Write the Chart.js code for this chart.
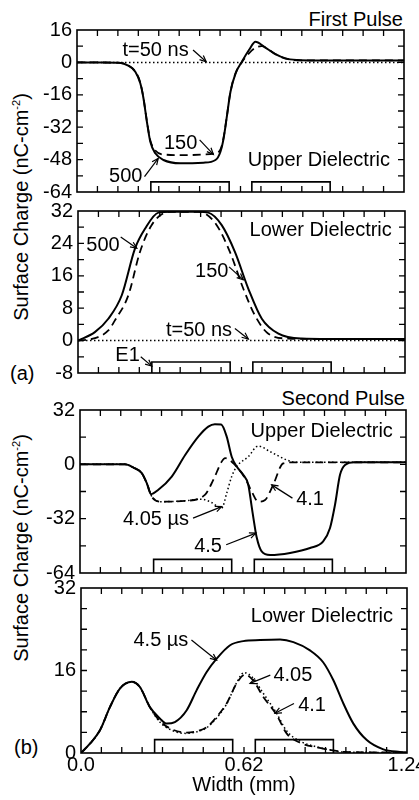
<!DOCTYPE html>
<html><head><meta charset="utf-8">
<script src="https://cdn.jsdelivr.net/npm/chart.js@4"></script>
<style>
html,body{margin:0;padding:0;background:#fff;width:419px;height:800px;overflow:hidden;font-family:"Liberation Sans",Arial,sans-serif;color:#000}
.panel{position:absolute;left:0;width:419px}
.lbl{position:absolute;font-size:20px;line-height:22px;white-space:nowrap}
.ytitle{position:absolute;font-size:20px;line-height:22px;white-space:nowrap;transform:translate(-50%,-50%) rotate(-90deg)}
.ytitle sup{font-size:11px;vertical-align:0;position:relative;top:-8px}
</style></head><body>
<div class="lbl" style="right:16px;top:8px">First Pulse</div>
<div class="lbl" style="right:14px;top:387px">Second Pulse</div>
<div class="lbl" style="left:10px;top:362px">(a)</div>
<div class="lbl" style="left:14px;top:736px">(b)</div>
<div class="ytitle" style="left:22px;top:207px">Surface Charge (nC-cm<sup>-2</sup>)</div>
<div class="ytitle" style="left:22px;top:548px">Surface Charge (nC-cm<sup>-2</sup>)</div>
<div class="panel" id="w1" style="top:15px;height:192px"><canvas id="c1"></canvas></div>
<div class="panel" id="w2" style="top:196px;height:192px"><canvas id="c2"></canvas></div>
<div class="panel" id="w3" style="top:395px;height:193px"><canvas id="c3"></canvas></div>
<div class="panel" id="w4" style="top:573px;height:227px"><canvas id="c4"></canvas></div>
<script>
// ---------- data ----------
// Panel (a) upper dielectric, first pulse
const p1x500 = [0, 0.10, 0.16, 0.19, 0.221, 0.24, 0.252, 0.265, 0.278, 0.297, 0.328, 0.392, 0.48, 0.525, 0.544, 0.556, 0.569, 0.582, 0.601, 0.626, 0.652, 0.677, 0.709, 0.747, 0.791, 0.836, 0.9, 1.24];
const p1y500 = [0, 0, -0.2, -1.3, -4.6, -10.3, -17.7, -29.3, -39.2, -44.9, -48.2, -49.8, -49.5, -48.2, -44.1, -37.5, -26, -14.5, -5.5, 0.5, 6.1, 10.2, 7.8, 4.5, 2.0, 1.2, 1.0, 1.0];
const p1x150 = [0, 0.16, 0.19, 0.221, 0.24, 0.252, 0.265, 0.278, 0.297, 0.33, 0.40, 0.48, 0.52, 0.544, 0.556, 0.569, 0.582, 0.601, 0.626, 0.652, 0.68, 0.70, 0.73, 0.76, 0.80, 0.85, 1.24];
const p1y150 = [0, -0.2, -1.2, -4.5, -10, -17.5, -29, -38.5, -43.5, -45.5, -45.8, -45.5, -45, -43, -37, -26, -14.5, -5.5, 0.3, 4.5, 7.5, 8, 6, 3.5, 1.6, 1.0, 1.0];
const p1x50 = [0, 0.62, 1.24];
const p1y50 = [0, 0, 0];
// Panel (a) lower dielectric, first pulse
const p2x500 = [0, 0.064, 0.115, 0.166, 0.216, 0.254, 0.305, 0.355, 0.456, 0.494, 0.545, 0.595, 0.646, 0.697, 0.76, 0.848, 0.95, 1.24];
const p2y500 = [0, 2.1, 5.4, 11.2, 22.7, 27.6, 31.6, 31.8, 31.8, 31.6, 28.5, 21.9, 12.8, 5.4, 1.7, 0.5, 0.4, 0.4];
const p2x150 = [0, 0.064, 0.115, 0.14, 0.191, 0.235, 0.279, 0.33, 0.355, 0.456, 0.475, 0.526, 0.576, 0.627, 0.671, 0.722, 0.8, 0.9, 1.24];
const p2y150 = [0, 0.6, 2.5, 5.0, 11.2, 21.9, 28.5, 31.6, 31.8, 31.8, 31.6, 28.5, 21.9, 12.8, 6.2, 1.7, 0.5, 0.4, 0.4];
const p2x50 = [0, 0.62, 1.24];
const p2y50 = [0, 0, 0];
// Panel (b) upper dielectric, second pulse
const p3x45 = [0, 0.171, 0.203, 0.235, 0.254, 0.27, 0.298, 0.349, 0.40, 0.45, 0.488, 0.513, 0.537, 0.558, 0.577, 0.596, 0.621, 0.64, 0.653, 0.662, 0.672, 0.691, 0.723, 0.799, 0.875, 0.925, 0.951, 0.97, 0.989, 1.008, 1.045, 1.24];
const p3y45 = [0, 0, -1.9, -5.2, -11.1, -17.6, -15, -7.2, 5.5, 16.3, 22.2, 23.6, 23.4, 16.3, 4.5, -1.3, -6.2, -12, -24.9, -34, -43, -51.3, -53.4, -52.2, -49.3, -45.4, -37.5, -23.8, -6.2, -0.4, 1.2, 1.2];
const p3x41 = [0, 0.171, 0.203, 0.235, 0.254, 0.275, 0.311, 0.40, 0.475, 0.507, 0.539, 0.552, 0.59, 0.628, 0.653, 0.678, 0.704, 0.735, 0.773, 0.81, 1.24];
const p3y41 = [0, 0, -1.9, -5.2, -11.1, -19.5, -22, -21.5, -18, -9.2, 1.6, 3.6, -0.4, -8.2, -16, -22, -21, -12, 0.6, 1.2, 1.2];
const p3x405 = [0, 0.171, 0.203, 0.235, 0.254, 0.275, 0.311, 0.40, 0.463, 0.50, 0.539, 0.558, 0.577, 0.596, 0.64, 0.678, 0.723, 0.786, 0.82, 1.24];
const p3y405 = [0, 0, -1.9, -5.2, -11.1, -19.5, -22, -21.5, -20.5, -22.5, -25.8, -17, -7.2, -1.3, 4.5, 10.8, 7.5, 2.6, 1.2, 1.2];
// Panel (b) lower dielectric, second pulse
const p4x45 = [0, 0.034, 0.072, 0.11, 0.148, 0.193, 0.224, 0.262, 0.30, 0.326, 0.357, 0.402, 0.44, 0.478, 0.516, 0.567, 0.617, 0.681, 0.757, 0.808, 0.871, 0.921, 0.96, 0.998, 1.036, 1.087, 1.15, 1.213, 1.24];
const p4y45 = [0, 1.8, 4.4, 8.9, 12.5, 13.8, 12.8, 8.9, 6.7, 5.7, 6.0, 8.3, 12.2, 15.7, 18.3, 20.9, 21.7, 21.9, 22.0, 21.5, 19.9, 17.6, 14.1, 9.6, 5.7, 2.5, 0.7, 0.2, 0.1];
const p4x405 = [0, 0.034, 0.072, 0.11, 0.148, 0.193, 0.224, 0.262, 0.30, 0.35, 0.402, 0.44, 0.478, 0.516, 0.554, 0.592, 0.624, 0.655, 0.693, 0.744, 0.782, 0.833, 0.896, 0.96, 1.0, 1.24];
const p4y405 = [0, 1.8, 4.4, 8.9, 12.5, 13.8, 12.8, 8.9, 6.2, 4.5, 3.95, 4.2, 5.0, 7.0, 9.6, 13.5, 15.2, 14.1, 10.9, 7.4, 3.8, 2.0, 1.1, 0.5, 0.2, 0.1];
const p4x41 = [0, 0.034, 0.072, 0.11, 0.148, 0.193, 0.224, 0.262, 0.30, 0.35, 0.402, 0.44, 0.478, 0.516, 0.554, 0.592, 0.62, 0.65, 0.693, 0.744, 0.782, 0.833, 0.896, 0.96, 1.0, 1.24];
const p4y41 = [0, 1.8, 4.4, 8.9, 12.5, 13.8, 12.8, 8.9, 6.0, 4.3, 3.8, 4.1, 4.9, 6.8, 9.5, 13.6, 15.6, 14.8, 11.6, 7.7, 4.3, 2.3, 1.2, 0.5, 0.2, 0.1];
// Electrodes (mm) and their heights in each panel's units
const elecX = [0.28, 0.577, 0.663, 0.96];
const elecTop = [-59, -5.3, -56, 2.6];
// Axes
const xLabelValues = [0, 0.62, 1.24];
const xLabelTexts = ['0.0', '0.62', '1.24'];
const xTickStep = 0.0775;

// ---------- helpers ----------
const FONT = "'Liberation Sans', Arial, sans-serif";
const FS = 20;
Chart.defaults.font.family = FONT;
Chart.defaults.font.size = FS;
Chart.defaults.color = '#000';
const STY = {
  solid: {borderWidth: 2, borderDash: []},
  dash: {borderWidth: 1.8, borderDash: [8, 5]},
  dot: {borderWidth: 1.5, borderDash: [1.5, 2.5]}
};
function series(xs, ys, st) {
  return Object.assign({data: xs.map((x, i) => ({x: x, y: ys[i]})), borderColor: '#000',
    pointRadius: 0, fill: false, cubicInterpolationMode: 'monotone'}, STY[st]);
}
function electrodes(bottom, top) {
  const d = [];
  for (let k = 0; k < elecX.length; k += 2) {
    if (k) d.push({x: elecX[k], y: null});
    d.push({x: elecX[k], y: bottom}, {x: elecX[k], y: top}, {x: elecX[k + 1], y: top}, {x: elecX[k + 1], y: bottom});
  }
  return {data: d, borderColor: '#000', borderWidth: 1.6, pointRadius: 0, fill: false, tension: 0, spanGaps: false};
}
function arrow(ctx, x1, y1, x2, y2) {
  ctx.beginPath(); ctx.moveTo(x1, y1); ctx.lineTo(x2, y2); ctx.stroke();
  const a = Math.atan2(y2 - y1, x2 - x1), h = 7, w = 0.42;
  ctx.beginPath();
  ctx.moveTo(x2 - h * Math.cos(a - w), y2 - h * Math.sin(a - w));
  ctx.lineTo(x2, y2);
  ctx.lineTo(x2 - h * Math.cos(a + w), y2 - h * Math.sin(a + w));
  ctx.stroke();
}
function decor(texts, arrows) {
  return {
    id: 'decor',
    afterDraw(chart) {
      const {ctx, chartArea: a, scales: {x, y}} = chart;
      ctx.save();
      ctx.strokeStyle = '#000'; ctx.fillStyle = '#000';
      ctx.lineWidth = 1.6;
      ctx.strokeRect(a.left, a.top, a.right - a.left, a.bottom - a.top);
      ctx.lineWidth = 1.3;
      ctx.beginPath();
      y.ticks.forEach(t => {
        const p = y.getPixelForValue(t.value);
        if (p <= a.top + 1 || p >= a.bottom - 1) return;
        ctx.moveTo(a.left, p); ctx.lineTo(a.left + 6, p);
        ctx.moveTo(a.right, p); ctx.lineTo(a.right - 6, p);
      });
      x.ticks.forEach(t => {
        const p = x.getPixelForValue(t.value);
        if (p <= a.left + 1 || p >= a.right - 1) return;
        ctx.moveTo(p, a.bottom); ctx.lineTo(p, a.bottom - 6);
        ctx.moveTo(p, a.top); ctx.lineTo(p, a.top + 6);
      });
      ctx.stroke();
      ctx.font = FS + 'px ' + FONT;
      ctx.textBaseline = 'middle';
      texts.forEach(t => {
        ctx.textAlign = t.a || 'center';
        ctx.fillText(t.t, x.getPixelForValue(t.x), y.getPixelForValue(t.y));
      });
      ctx.lineWidth = 1.2;
      arrows.forEach(r => arrow(ctx, x.getPixelForValue(r[0]), y.getPixelForValue(r[1]), x.getPixelForValue(r[2]), y.getPixelForValue(r[3])));
      ctx.restore();
    }
  };
}
function panel(id, p) {
  const showX = !!p.showX;
  new Chart(document.getElementById(id), {
    type: 'line',
    data: {datasets: p.datasets},
    options: {
      responsive: true, maintainAspectRatio: false, animation: false,
      layout: {padding: {top: p.padTop, bottom: p.padBottom, right: 419 - p.R, left: 0}},
      plugins: {legend: {display: false}, tooltip: {enabled: false}},
      scales: {
        x: {
          type: 'linear', min: 0, max: 1.24,
          grid: {display: false, drawTicks: false}, border: {display: false},
          ticks: {display: showX, stepSize: xTickStep, autoSkip: false, maxRotation: 0, minRotation: 0, padding: 0,
            callback: v => { const i = xLabelValues.findIndex(q => Math.abs(q - v) < 1e-6); return i < 0 ? '' : xLabelTexts[i]; }},
          title: {display: showX, text: 'Width (mm)', padding: {top: 0, bottom: 0}},
          afterFit(s) { s.height = showX ? p.xH : 0; s.paddingLeft = 0; s.paddingRight = 0; }
        },
        y: {
          min: p.yMin, max: p.yMax,
          grid: {display: false, drawTicks: false}, border: {display: false},
          ticks: {stepSize: p.yStep, autoSkip: false, padding: 5,
            callback: v => (Math.abs(v % p.yLab) < 1e-6 ? String(v) : '')},
          afterFit(s) { s.width = p.L; s.paddingTop = 0; s.paddingBottom = 0; }
        }
      }
    },
    plugins: [decor(p.texts, p.arrows)]
  });
}

// ---------- panels ----------
panel('c1', {L: 77, R: 404, padTop: 15, padBottom: 15, yMin: -64, yMax: 16, yStep: 8, yLab: 16,
  datasets: [series(p1x50, p1y50, 'dot'), series(p1x150, p1y150, 'dash'), series(p1x500, p1y500, 'solid'), electrodes(-64, elecTop[0])],
  texts: [{t: 't=50 ns', x: 0.298, y: 6.1}, {t: '150', x: 0.393, y: -39.9}, {t: '500', x: 0.185, y: -56.4}, {t: 'Upper Dielectric', x: 1.187, y: -48.2, a: 'right'}],
  arrows: [[0.44, 6.1, 0.49, 0.3], [0.465, -38.3, 0.517, -45.4], [0.256, -56.4, 0.308, -47.4]]});
panel('c2', {L: 78, R: 405, padTop: 15, padBottom: 15, yMin: -8, yMax: 32, yStep: 4, yLab: 8,
  datasets: [series(p2x50, p2y50, 'dot'), series(p2x150, p2y150, 'dash'), series(p2x500, p2y500, 'solid'), electrodes(-8, elecTop[1])],
  texts: [{t: '500', x: 0.095, y: 23.6}, {t: '150', x: 0.507, y: 17.0}, {t: 't=50 ns', x: 0.459, y: 2.6}, {t: 'Lower Dielectric', x: 1.19, y: 27.3, a: 'right'}, {t: 'E1', x: 0.188, y: -3.6}],
  arrows: [[0.162, 25.6, 0.223, 22.8], [0.573, 18.2, 0.627, 15.0], [0.595, 3.0, 0.646, 0.4], [0.238, -4.0, 0.28, -6.3]]});
panel('c3', {L: 80, R: 406, padTop: 15, padBottom: 15, yMin: -64, yMax: 32, yStep: 16, yLab: 32,
  datasets: [series(p3x405, p3y405, 'dot'), series(p3x41, p3y41, 'dash'), series(p3x45, p3y45, 'solid'), electrodes(-64, elecTop[2])],
  texts: [{t: 'Upper Dielectric', x: 1.19, y: 19.2, a: 'right'}, {t: '4.05 \u00b5s', x: 0.289, y: -32.7}, {t: '4.5', x: 0.487, y: -48.4}, {t: '4.1', x: 0.875, y: -20.9}],
  arrows: [[0.43, -31.7, 0.539, -24.9], [0.556, -47.4, 0.669, -40.5], [0.808, -19.9, 0.729, -12.1]]});
panel('c4', {L: 81, R: 407, padTop: 15, padBottom: 3, xH: 44, showX: true, yMin: 0, yMax: 32, yStep: 4, yLab: 16,
  datasets: [series(p4x41, p4y41, 'dot'), series(p4x405, p4y405, 'dash'), series(p4x45, p4y45, 'solid'), electrodes(0, elecTop[3])],
  texts: [{t: 'Lower Dielectric', x: 1.187, y: 26.4, a: 'right'}, {t: '4.5 \u00b5s', x: 0.304, y: 21.9}, {t: '4.05', x: 0.806, y: 15.1}, {t: '4.1', x: 0.879, y: 9.3}],
  arrows: [[0.42, 21.9, 0.516, 18.0], [0.72, 15.1, 0.643, 13.5], [0.81, 9.6, 0.738, 7.7]]});
</script>
</body></html>
